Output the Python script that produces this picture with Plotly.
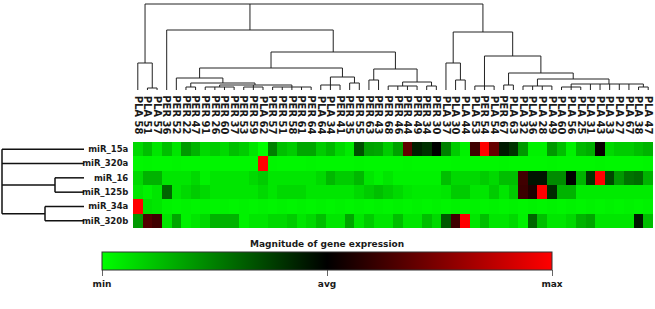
import plotly.graph_objects as go

W, H = 655, 309

col_labels = [
    "PLA 58", "PLA 51", "PLA 57", "PER 36", "PER 52", "PER 22", "PER 47", "PER 91", "PER 26", "PER 60",
    "PER 37", "PER 53", "PER 59", "PLA 62", "PER 57", "PER 51", "PER 58", "PER 61", "PER 64", "PLA 64",
    "PLA 34", "PER 41", "PER 35", "PER 55", "PER 63", "PER 43", "PER 68", "PER 46", "PER 44", "PER 49",
    "PER 34", "PER 30", "PLA 37", "PLA 30", "PLA 44", "PLA 53", "PER 54", "PLA 54", "PER 67", "PLA 63",
    "PLA 32", "PLA 36", "PLA 28", "PLA 49", "PLA 60", "PLA 56", "PLA 25", "PLA 31", "PLA 43", "PLA 33",
    "PLA 27", "PLA 67", "PLA 38", "PLA 47",
]
row_labels = ["miR_15a", "miR_320a", "miR_16", "miR_125b", "miR_34a", "miR_320b"]
scale_title = "Magnitude of gene expression"
scale_labels = ["min", "avg", "max"]

# expression, -1 = min (green), 0 = avg (black), 1 = max (red)
mir_15a = [-0.85, -0.75, -0.9, -0.75, -0.9, -0.6, -0.7, -0.85, -0.8, -0.85, -0.75, -0.8, -0.9, -1.0, -0.5,
           -0.75, -0.8, -0.65, -0.65, -0.8, -0.72,
           -0.85, -0.92, -0.31, -0.63, -0.65, -0.8, -0.63, 0.38, -0.12, -0.19, 0.0, -0.5, -0.8, -0.95,
           0.25, 1.0, 0.4, -0.1, -0.2, -0.6, -0.95, -0.95, -0.6, -0.75, -0.95, -0.72, -0.68, 0.03, -0.85,
           -0.8, -0.8, -0.75, -0.7]
mir_320a = [-0.97, -0.96, -0.97, -0.97, -0.96, -0.97, -0.97, -0.97, -0.96, -0.97, -0.97, -0.97, -0.97, 1.0,
            -0.96, -0.97, -0.97, -0.97, -0.96, -0.97, -0.97, -0.97, -0.97, -0.96, -0.97, -0.97, -0.97, -0.97,
            -0.96, -0.97, -0.97, -0.97, -0.97, -0.96, -0.97, -0.97, -0.97, -0.97, -0.96, -0.97, -0.97, -0.97,
            -0.97, -0.96, -0.97, -0.97, -0.97, -0.97, -0.96, -0.97, -0.97, -0.97, -0.97, -0.96]
mir_16 = [-0.85, -0.7, -0.7, -0.9, -0.9, -0.9, -0.85, -0.95, -0.9, -0.9, -0.9, -0.9, -0.85, -0.8, -0.9,
          -0.9, -0.9, -0.9, -0.9, -0.85, -0.72,
          -0.8, -0.8, -0.72, -0.9, -0.95, -0.9, -0.95, -0.95, -0.95, -0.95, -0.95, -0.75, -0.85, -0.85,
          -0.85, -0.8, -0.85, -0.75, -0.75, 0.25, -0.08, -0.08, -0.55, -0.55, 0.0, -0.7, -0.2, 1.0, -0.28,
          -0.6, -0.45, -0.42, -0.7]
mir_125b = [-0.9, -0.95, -0.9, -0.4, -0.9, -0.85, -0.8, -0.85, -0.9, -0.9, -0.9, -0.9, -0.9, -0.85, -0.9,
            -0.85, -0.85, -0.85, -0.9, -0.9, -0.9,
            -0.9, -0.9, -0.85, -0.8, -0.75, -0.8, -0.85, -0.9, -0.92, -0.92, -0.92, -0.9, -0.8, -0.8,
            -0.9, -0.9, -0.8, -0.9, -0.8, 0.23, 0.12, 1.0, -0.17, -0.7, -0.7, -0.92, -0.92, -0.92, -0.92,
            -0.92, -0.92, -0.92, -0.92]
mir_34a = [1.0, -0.88, -0.9, -0.95, -0.96, -0.95, -0.96, -0.95, -0.96, -0.95, -0.96, -0.95, -0.96, -0.95,
           -0.96, -0.95, -0.96, -0.95, -0.96, -0.95, -0.96, -0.95, -0.96, -0.95, -0.96, -0.95, -0.96, -0.95,
           -0.96, -0.95, -0.96, -0.95, -0.96, -0.95, -0.96, -0.95, -0.96, -0.95, -0.96, -0.95, -0.96, -0.95,
           -0.96, -0.95, -0.96, -0.95, -0.96, -0.95, -0.96, -0.95, -0.96, -0.95, -0.96, -0.95]
mir_320b = [-0.6, 0.32, 0.25, -0.9, -0.65, -0.95, -0.9, -0.85, -0.7, -0.7, -0.7, -0.95, -0.9, -0.9, -0.85,
            -0.85, -0.8, -0.9, -0.85, -0.75, -0.9,
            -0.9, -0.65, -0.9, -0.8, -0.9, -0.9, -0.75, -0.9, -0.9, -0.75, -0.85, -0.35, 0.25, 1.0,
            -0.9, -0.75, -0.9, -0.9, -0.85, -0.95, -0.4, -0.75, -0.9, -0.9, -0.85, -0.7, -0.65, -0.9, -0.9,
            -0.9, -0.9, -0.1, -0.75]
expr = [mir_15a, mir_320a, mir_16, mir_125b, mir_34a, mir_320b]

# column dendrogram: (node, height, children); ints are column indices
col_tree = [
    ("a12", 2, [1, 2]), ("A", 27, [0, "a12"]),
    ("g56", 3, [5, 6]), ("g7", 3, [7, 8, 9, 10]), ("g11", 3, [11, 12, 13]), ("g14", 3, [14, 15, 16, 17, 18]),
    ("G2", 5, ["g7", "g11", "g14"]), ("G", 7, ["g56", "G2"]), ("F", 12, [4, "G"]),
    ("h19", 5, [19, 20, 21]), ("h22", 7, [22, 23]), ("Hh", 13, ["h19", "h22"]), ("E", 22, ["F", "Hh"]),
    ("i24", 10, [24, 25]), ("j26", 4, [26, 27, 28, 29]), ("j30", 4, [30, 31]), ("J", 8, ["j26", "j30"]),
    ("I", 21, ["i24", "J"]), ("D", 38, ["E", "I"]), ("B", 60, [3, "D"]),
    ("c33", 10, [33, 34]), ("Cl", 27, [32, "c33"]),
    ("k35", 4, [35, 36, 37]), ("l38", 5, [38, 39]), ("m40", 4, [40, 41, 42, 43]),
    ("n44", 3, [44, 45, 46]), ("n52", 3, [52, 53]), ("N", 6, ["n44", 47, 48, 49, 50, 51, "n52"]),
    ("M", 11, ["m40", "N"]), ("L", 17, ["l38", "M"]), ("K", 34, ["k35", "L"]), ("C", 58, ["Cl", "K"]),
    ("root", 86, ["A", "B", "C"]),
]
# row dendrogram: ints are row indices
row_tree = [("r23", 29, [2, 3]), ("r45", 39, [4, 5]), ("root", 82, [0, 1, "r23", "r45"])]


def dendro(tree):
    nodes = {n: (h, ch) for n, h, ch in tree}
    pos, hgt = [], []

    def place(n):
        if isinstance(n, int):
            return float(n), 0.0
        h, ch = nodes[n]
        cs = [place(c) for c in ch]
        for cx, chh in cs:
            pos.extend([cx, cx, None]); hgt.extend([chh, h, None])
        xs = [c[0] for c in cs]
        pos.extend([min(xs), max(xs), None]); hgt.extend([h, h, None])
        return sum(xs) / len(xs), h

    place(tree[-1][0])
    return pos, hgt


cx, ch = dendro(col_tree)
ry, rd = dendro(row_tree)

font_b = dict(family="DejaVu Sans", size=9, color="#1a1a1a", weight="bold")
font_col = dict(family="DejaVu Sans", size=10, color="#1a1a1a", weight="bold")
font_row = dict(family="DejaVu Sans", size=8.5, color="#1a1a1a", weight="bold")

fig = go.Figure()
fig.add_trace(go.Heatmap(
    z=expr, x=list(range(len(col_labels))), y=list(range(len(row_labels))),
    zmin=-1, zmax=1,
    colorscale=[[0, "#00ff00"], [0.5, "#000000"], [1, "#ff0000"]],
    xgap=0, ygap=0,
    colorbar=dict(
        orientation="h", x=327 / W, xanchor="center", y=1 - 252 / H, yanchor="top",
        len=450, lenmode="pixels", thickness=18, thicknessmode="pixels",
        tickvals=[-1, 0, 1], ticktext=scale_labels, ticks="outside", ticklen=6,
        tickcolor="#666", outlinewidth=1, outlinecolor="#333", xpad=0, ypad=0,
        tickfont=font_b,
    ),
    showscale=True,
))
fig.add_trace(go.Scatter(x=cx, y=ch, mode="lines", line=dict(color="#222", width=1),
                         xaxis="x", yaxis="y2", hoverinfo="skip", showlegend=False))
fig.add_trace(go.Scatter(x=rd, y=ry, mode="lines", line=dict(color="#111", width=1.5),
                         xaxis="x3", yaxis="y", hoverinfo="skip", showlegend=False))

fig.add_annotation(text=scale_title, xref="paper", yref="paper", x=327 / W, y=1 - 244 / H,
                   xanchor="center", yanchor="middle", showarrow=False, font=font_b)

fig.update_layout(
    width=W, height=H,
    margin=dict(l=0, r=0, t=0, b=0, autoexpand=False),
    paper_bgcolor="white", plot_bgcolor="white",
    xaxis=dict(domain=[133 / W, 653 / W], range=[-0.5, len(col_labels) - 0.5], side="top",
               tickvals=list(range(len(col_labels))), ticktext=col_labels, tickangle=90,
               ticks="outside", ticklen=3, tickcolor="rgba(0,0,0,0)",
               showgrid=False, zeroline=False, showline=False, anchor="y",
               tickfont=font_col),
    yaxis=dict(domain=[1 - 228 / H, 1 - 142 / H], range=[len(row_labels) - 0.5, -0.5],
               tickvals=list(range(len(row_labels))), ticktext=row_labels,
               ticks="outside", ticklen=2, tickcolor="rgba(0,0,0,0)",
               showgrid=False, zeroline=False, showline=False, anchor="x", tickfont=font_row),
    yaxis2=dict(domain=[1 - 92 / H, 1], range=[-2, 90], visible=False, anchor="x"),
    xaxis3=dict(domain=[0, 84 / W], range=[84, 0], visible=False, anchor="y"),
)

fig.write_html("out.html")
